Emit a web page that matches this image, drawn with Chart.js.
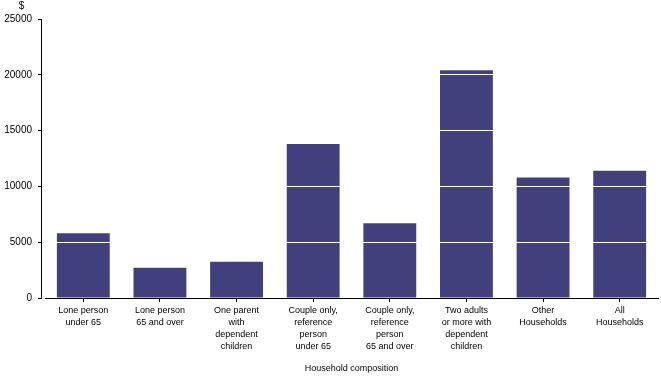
<!DOCTYPE html>
<html>
<head>
<meta charset="utf-8">
<script src="https://cdn.jsdelivr.net/npm/chart.js@4/dist/chart.umd.min.js"></script>
<style>
html,body{margin:0;padding:0;background:#fff;}
#wrap{width:661px;height:378px;position:relative;}
</style>
</head>
<body>
<div id="wrap"><canvas id="c" width="661" height="378"></canvas></div>
<script>
const categories = [
  ["Lone person", "under 65"],
  ["Lone person", "65 and over"],
  ["One parent", "with", "dependent", "children"],
  ["Couple only,", "reference", "person", "under 65"],
  ["Couple only,", "reference", "person", "65 and over"],
  ["Two adults", "or more with", "dependent", "children"],
  ["Other", "Households"],
  ["All", "Households"]
];
const values = [5800, 2700, 3250, 13800, 6700, 20400, 10800, 11400];
const yTicks = [0, 5000, 10000, 15000, 20000, 25000];
const yUnit = "$";
const xTitle = "Household composition";

const FONT = "'Liberation Sans', Arial, sans-serif";

const unitPlugin = {
  id: 'unitLabel',
  afterDraw(chart) {
    const ys = chart.scales.y;
    const ctx = chart.ctx;
    ctx.save();
    ctx.fillStyle = '#000';
    ctx.font = "10px " + FONT;
    ctx.textAlign = 'center';
    ctx.textBaseline = 'middle';
    ctx.fillText(yUnit, ys.right - 19.5, ys.top - 13);
    ctx.restore();
  }
};

new Chart(document.getElementById('c'), {
  type: 'bar',
  data: {
    labels: categories,
    datasets: [{
      data: values,
      backgroundColor: '#41407d',
      borderWidth: 0,
      barPercentage: 0.69,
      categoryPercentage: 1.0,
      yAxisID: 'y'
    }]
  },
  options: {
    responsive: false,
    animation: false,
    events: [],
    layout: { padding: { top: 19, right: 3, left: 0, bottom: 0 } },
    plugins: { legend: { display: false }, tooltip: { enabled: false } },
    scales: {
      x: {
        offset: true,
        grid: { display: true, drawOnChartArea: false, drawTicks: true, tickLength: 4, tickColor: '#000', offset: false },
        border: { display: true, color: '#000', width: 1 },
        ticks: { color: '#000', font: { family: FONT, size: 9, lineHeight: 1.36 }, maxRotation: 0, autoSkip: false, padding: 2 },
        title: { display: true, text: xTitle, color: '#000', font: { family: FONT, size: 9 }, padding: { top: 0, bottom: 4 } },
        afterFit(s) { s.height = 80; }
      },
      y: {
        position: 'left',
        weight: 1,
        min: 0, max: 25000,
        afterBuildTicks(s) { s.ticks = yTicks.map(v => ({ value: v })); },
        grid: {
          z: 1,
          color: (c) => (c.tick && c.tick.value === 0) ? 'rgba(0,0,0,0)' : '#ffffff',
          lineWidth: 1,
          drawTicks: true, tickLength: 3, tickColor: '#000'
        },
        border: { display: true, color: '#000', width: 1, z: 1 },
        ticks: { color: '#000', font: { family: FONT, size: 10 }, padding: 6, callback: (v) => String(v) },
        afterFit(s) { s.width = 41; }
      },
      yGap: {
        type: 'linear',
        position: 'left',
        weight: 0,
        min: 0, max: 25000,
        grid: { display: false, drawTicks: false },
        border: { display: false },
        ticks: { display: false },
        afterFit(s) { s.width = 4; }
      }
    }
  },
  plugins: [unitPlugin]
});
</script>
</body>
</html>
